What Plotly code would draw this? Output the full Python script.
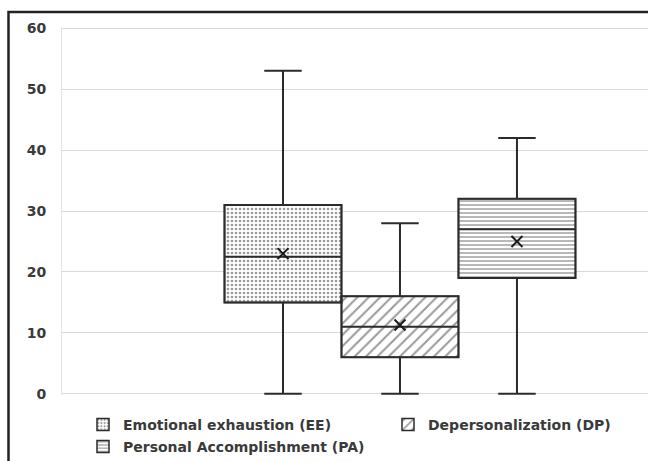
import plotly.graph_objects as go

series = ["Emotional exhaustion (EE)", "Depersonalization (DP)", "Personal Accomplishment (PA)"]
positions = [0, 1, 2]
lower = [0, 0, 0]
q1 = [15, 6, 19]
median = [22.5, 11, 27]
q3 = [31, 16, 32]
upper = [53, 28, 42]
means = [23, 11.3, 25]
patterns = [".", "/", "-"]
pattern_sizes = [4, 8, 4]
pattern_solidity = [0.35, 0.25, 0.35]
y_ticks = [0, 10, 20, 30, 40, 50, 60]

LINE = "#2b2b2b"
legend_ids = ["legend", "legend2", "legend3"]
fig = go.Figure()

for i, name in enumerate(series):
    fig.add_trace(go.Bar(
        x=[positions[i]], y=[q3[i] - q1[i]], base=[q1[i]], width=1,
        name=name, showlegend=True, legend=legend_ids[i],
        marker=dict(color="white", line=dict(color=LINE, width=1.5),
                    pattern=dict(shape=patterns[i], fgcolor="#333333", bgcolor="white",
                                 size=pattern_sizes[i], solidity=pattern_solidity[i],
                                 fillmode="overlay")),
        hoverinfo="skip",
    ))

for i, name in enumerate(series):
    fig.add_trace(go.Box(
        x=[positions[i]], q1=[q1[i]], median=[median[i]], q3=[q3[i]],
        lowerfence=[lower[i]], upperfence=[upper[i]],
        width=1, whiskerwidth=0.32, name=name, showlegend=False,
        fillcolor="rgba(0,0,0,0)", line=dict(color=LINE, width=2),
    ))

fig.add_trace(go.Scatter(
    x=positions, y=means, mode="markers", showlegend=False,
    marker=dict(symbol="x-thin", size=11, line=dict(color="#1a1a1a", width=2)),
))

# outer chart border (cropped on right/bottom)
fig.add_shape(type="rect", xref="paper", yref="paper",
              x0=(8.5 - 62) / 586, x1=1.2, y0=-0.4, y1=1 + (27 - 12) / 368,
              line=dict(color="#222222", width=2.5), fillcolor="rgba(0,0,0,0)", layer="below")

leg_font = dict(family="DejaVu Sans", size=14, color="#3a3a3a", weight="bold")
leg_common = dict(orientation="h", xref="container", yref="container",
                  xanchor="left", yanchor="top", font=leg_font, bgcolor="rgba(0,0,0,0)")

fig.update_layout(
    width=648, height=461,
    margin=dict(l=62, r=0, t=27, b=66, autoexpand=False),
    plot_bgcolor="white", paper_bgcolor="white",
    barmode="overlay", boxmode="overlay",
    font=dict(family="DejaVu Sans", size=12, color="#404040"),
    xaxis=dict(range=[-1.889, 3.12], showticklabels=False, showgrid=False,
               zeroline=False, showline=False, ticks="", automargin=False),
    yaxis=dict(range=[-0.2, 60.2], tickvals=y_ticks, showgrid=True, gridcolor="#d9d9d9",
               gridwidth=1, zeroline=False, showline=True, linecolor="#e3e3e3",
               ticks="", ticklabelstandoff=12, automargin=False,
               tickfont=dict(family="DejaVu Sans", size=14, color="#3a3a3a", weight="bold")),
    legend=dict(x=83 / 648, y=1 - 409 / 461, **leg_common),
    legend2=dict(x=388 / 648, y=1 - 409 / 461, **leg_common),
    legend3=dict(x=83 / 648, y=1 - 431 / 461, **leg_common),
    showlegend=True,
)

fig.write_html("out.html", config={"displayModeBar": False},
               post_script="document.body.style.margin='0';document.body.style.overflow='hidden';")
